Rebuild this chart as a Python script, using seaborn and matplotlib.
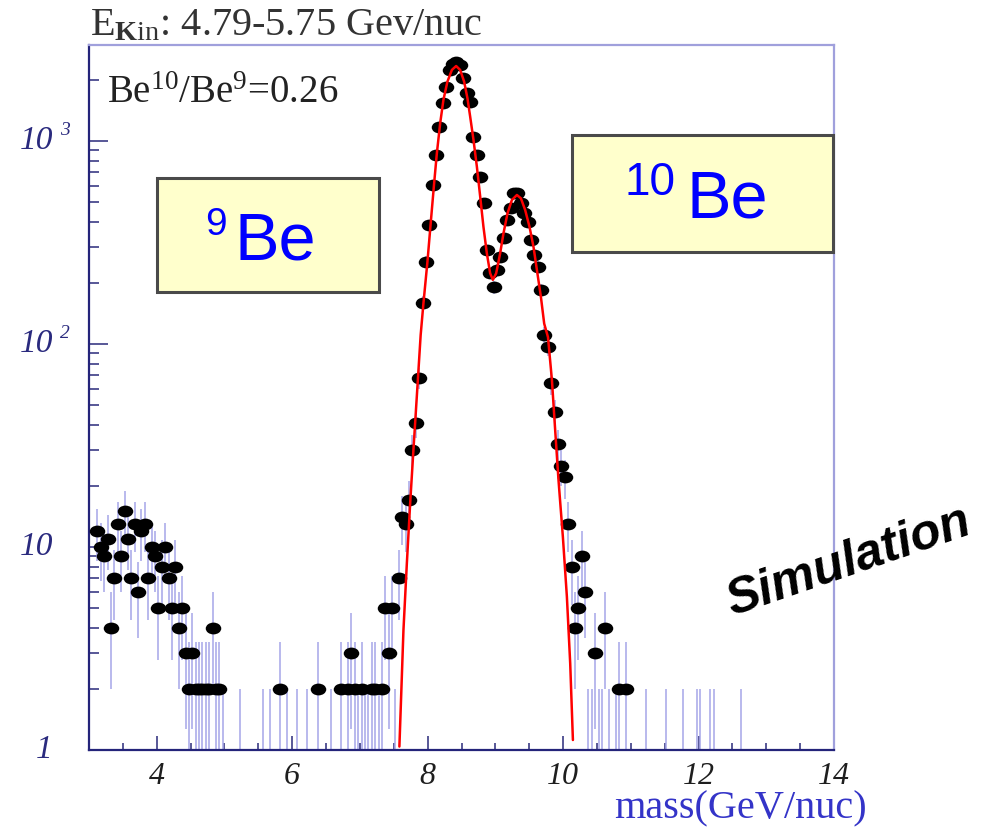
import numpy as np
import matplotlib
matplotlib.use("Agg")
import matplotlib.pyplot as plt
import matplotlib.transforms as mtransforms
from matplotlib.path import Path
from matplotlib.patches import Rectangle
from matplotlib.ticker import FixedLocator, LogLocator, NullFormatter
import seaborn as sns

sns.set_style("ticks")
plt.rcParams["font.family"] = ["Liberation Serif", "DejaVu Serif"]
plt.rcParams["mathtext.fontset"] = "custom"
plt.rcParams["mathtext.rm"] = "Liberation Serif"
plt.rcParams["mathtext.it"] = "Liberation Serif:italic"
plt.rcParams["mathtext.bf"] = "Liberation Serif:bold"
plt.rcParams["mathtext.sf"] = "Liberation Sans"
plt.rcParams["mathtext.default"] = "rm"

# ---- histogram: bin centres (GeV/nuc) and entries per 0.05 bin ----
bin_center = [
    3.125, 3.175, 3.225, 3.275, 3.325, 3.375, 3.425, 3.475, 3.525, 3.575,
    3.625, 3.675, 3.725, 3.775, 3.825, 3.875, 3.925, 3.975, 4.025, 4.075,
    4.125, 4.175, 4.225, 4.275, 4.325, 4.375, 4.425, 4.475, 4.525, 4.575,
    4.625, 4.675, 4.725, 4.775, 4.825, 4.875, 4.925, 4.975,
    5.225, 5.575, 5.675, 5.825, 5.925, 6.075, 6.225, 6.375, 6.575,
    6.725, 6.825, 6.875, 6.925, 6.975, 7.025, 7.075, 7.125, 7.175, 7.225,
    7.275, 7.325, 7.375, 7.425, 7.475, 7.525,
    7.575, 7.625, 7.675, 7.725, 7.775, 7.825, 7.875, 7.925, 7.975, 8.025,
    8.075, 8.125, 8.175, 8.225, 8.275, 8.325, 8.375, 8.425, 8.475, 8.525,
    8.575, 8.625, 8.675, 8.725, 8.775, 8.825, 8.875, 8.925, 8.975, 9.025,
    9.075, 9.125, 9.175, 9.225, 9.275, 9.325, 9.375, 9.425, 9.475, 9.525,
    9.575, 9.625, 9.675, 9.725, 9.775, 9.825, 9.875, 9.925, 9.975, 10.025,
    10.075, 10.125, 10.175, 10.225, 10.275, 10.325, 10.375, 10.425, 10.475,
    10.525, 10.575, 10.625, 10.675, 10.775, 10.825, 10.925,
    11.225, 11.525, 11.775, 11.975, 12.025, 12.175, 12.225, 12.625,
]
bin_count = [
    12, 10, 9, 11, 4, 7, 13, 9, 15, 11,
    7, 13, 6, 12, 13, 7, 10, 9, 5, 8,
    10, 7, 5, 8, 4, 5, 3, 2, 3, 2,
    2, 2, 2, 2, 4, 2, 2, 1,
    1, 1, 1, 2, 1, 1, 1, 2, 1,
    2, 2, 3, 2, 1, 2, 1, 1, 2, 2,
    1, 2, 5, 3, 5, 1,
    7, 14, 13, 17, 30, 41, 68, 159, 254, 386,
    606, 853, 1176, 1535, 1851, 2237, 2400, 2457, 2366, 2035,
    1718, 1563, 1050, 853, 667, 493, 290, 223, 191, 232,
    269, 332, 408, 466, 552, 552, 493, 440, 400, 325,
    274, 240, 184, 111, 97, 64, 46, 32, 25, 22,
    13, 8, 4, 5, 9, 6, 1, 1, 3,
    1, 1, 4, 1, 1, 2, 2,
    1, 1, 1, 1, 1, 1, 1, 1,
]

# ---- double-Gaussian fit curve ----
fit_mass = [
    7.583, 7.643, 7.693, 7.742, 7.790, 7.840, 7.897, 7.938, 7.997, 8.047,
    8.096, 8.136, 8.185, 8.233, 8.292, 8.358, 8.421, 8.480, 8.539, 8.588,
    8.628, 8.677, 8.727, 8.776, 8.824, 8.874, 8.923, 8.963, 9.012, 9.071,
    9.120, 9.179, 9.244, 9.318, 9.377, 9.440, 9.504, 9.563, 9.613, 9.672,
    9.721, 9.777, 9.835, 9.883, 9.932, 9.997, 10.056, 10.105, 10.145,
]
fit_value = [
    1.04, 3.9, 8.3, 16.4, 30.0, 55.0, 110.7, 158.6, 254, 400,
    619, 869, 1222, 1593, 1960, 2239, 2340, 2239, 1960, 1622,
    1318, 1012, 747, 532, 378, 280, 223, 207, 223, 280,
    351, 440, 512, 542, 522, 457, 378, 301, 232, 171,
    126, 108, 66.5, 37.7, 21.4, 11.2, 5.69, 2.67, 1.12,
]

# ---- axis ticks ----
xtick_values = [4, 6, 8, 10, 12, 14]
xtick_labels = ["4", "6", "8", "10", "12", "14"]
xtick_minor = [3.5, 4.5, 5, 5.5, 6.5, 7, 7.5, 8.5, 9, 9.5, 10.5, 11, 11.5,
               12.5, 13, 13.5]
ytick_values = [1, 10, 100, 1000]
ytick_base = ["1", "10", "10", "10"]
ytick_power = ["", "", "2", "3"]

W, H = 981, 827
fig = plt.figure(figsize=(W / 100, H / 100), dpi=100)
fig.patch.set_facecolor("white")
ax = fig.add_axes([89 / W, 1 - 750 / H, 745 / W, 705 / H])
ax.set_facecolor("white")

centers = np.array(bin_center)
counts = np.array(bin_count, dtype=float)
err = np.sqrt(counts)
lo = np.clip(counts - err, 0.5, None)
hi = counts + err

# Poisson error bars
ax.vlines(centers, lo, hi, colors="#a6a6e8", lw=1.1, zorder=2)

# filled elliptical markers for populated bins
circ = Path.unit_circle()
ellipse = Path(circ.vertices * np.array([1.0, 0.76]), circ.codes)
shown = counts >= 2
sns.scatterplot(x=centers[shown], y=counts[shown], ax=ax, marker=ellipse,
                s=125, color="black", edgecolor="black", linewidth=0,
                zorder=3, legend=False)

# fit
sns.lineplot(x=fit_mass, y=fit_value, ax=ax, color="red", lw=1.8,
             estimator=None, sort=False, zorder=4)

ax.set_yscale("log")
ax.set_xlim(3, 14)
ax.set_ylim(1, 2970)
ax.set_xlabel("")
ax.set_ylabel("")

ax.set_xticks(xtick_values)
ax.set_xticklabels(xtick_labels, fontstyle="italic", fontsize=23,
                   color="#1e1e1e")
ax.xaxis.set_minor_locator(FixedLocator(xtick_minor))
ax.set_yticks(ytick_values)
ax.yaxis.set_minor_locator(LogLocator(base=10, subs=np.arange(2, 10)))
ax.yaxis.set_minor_formatter(NullFormatter())
ax.tick_params(axis="both", which="both", direction="in", color="#2a2a7a",
               width=1.1, bottom=True, left=True, top=False, right=False)
ax.tick_params(axis="y", which="both", labelleft=False)
ax.tick_params(axis="x", which="major", length=10, pad=9)
ax.tick_params(axis="x", which="minor", length=5)
ax.tick_params(axis="y", which="major", length=14)
ax.tick_params(axis="y", which="minor", length=7)

for s in ["left", "bottom"]:
    ax.spines[s].set_color("#24247a")
    ax.spines[s].set_linewidth(1.6)
for s in ["top", "right"]:
    ax.spines[s].set_color("#a0a0dc")
    ax.spines[s].set_linewidth(1.6)

# y tick labels in ROOT style (10 with a raised exponent)
ylab_trans = mtransforms.blended_transform_factory(ax.transAxes, ax.transData)
sup_trans = mtransforms.offset_copy(ylab_trans, fig=fig, x=0, y=10,
                                    units="dots")
for val, base, power in zip(ytick_values, ytick_base, ytick_power):
    ax.text(-36 / 745, val, base, transform=ylab_trans, ha="right",
            va="center", fontsize=24, fontstyle="italic", color="#2a2a7e",
            clip_on=False)
    if power:
        ax.text(-29 / 745, val, power, transform=sup_trans, ha="left",
                va="center", fontsize=14, fontstyle="italic",
                color="#2a2a7e", clip_on=False)

# header and axis title
fig.text(90 / W, 1 - 35 / H, r"E$_{\mathbf{K}\mathrm{in}}$: 4.79-5.75 Gev/nuc",
         fontsize=29, color="#333333", va="baseline")
fig.text(107 / W, 1 - 103 / H, r"Be$^{10}$/Be$^{9}$=0.26", fontsize=28,
         color="#222222", va="baseline")
fig.text(867 / W, 1 - 818 / H, "mass(GeV/nuc)", ha="right", va="baseline",
         fontsize=29, color="#3434c8")

# isotope boxes
ax.add_patch(Rectangle(((157 - 89) / 745, (750 - 292) / 705),
                       (379 - 157) / 745, (292 - 178) / 705,
                       transform=ax.transAxes, facecolor="#ffffcc",
                       edgecolor="#4a4a4a", lw=2.2, zorder=5, clip_on=False))
ax.add_patch(Rectangle(((572 - 89) / 745, (750 - 252) / 705),
                       (833 - 572) / 745, (252 - 135) / 705,
                       transform=ax.transAxes, facecolor="#ffffcc",
                       edgecolor="#4a4a4a", lw=2.2, zorder=5, clip_on=False))

sans = "Liberation Sans"
fig.text(205 / W, 1 - 235 / H, "9", family=sans, fontsize=28, color="#0000ff",
         va="baseline", zorder=6)
fig.text(235 / W, 1 - 260 / H, "Be", family=sans, fontsize=48,
         color="#0000ff", va="baseline", zorder=6)
fig.text(624 / W, 1 - 195 / H, "10", family=sans, fontsize=33,
         color="#0000ff", va="baseline", zorder=6)
fig.text(687 / W, 1 - 218 / H, "Be", family=sans, fontsize=48,
         color="#0000ff", va="baseline", zorder=6)

fig.text(732 / W, 1 - 616 / H, "Simulation", family=sans, fontsize=36,
         fontweight="bold", fontstyle="italic", color="black",
         rotation=19, rotation_mode="anchor", ha="left", va="baseline",
         zorder=6)

fig.savefig("out.png", dpi=100)
